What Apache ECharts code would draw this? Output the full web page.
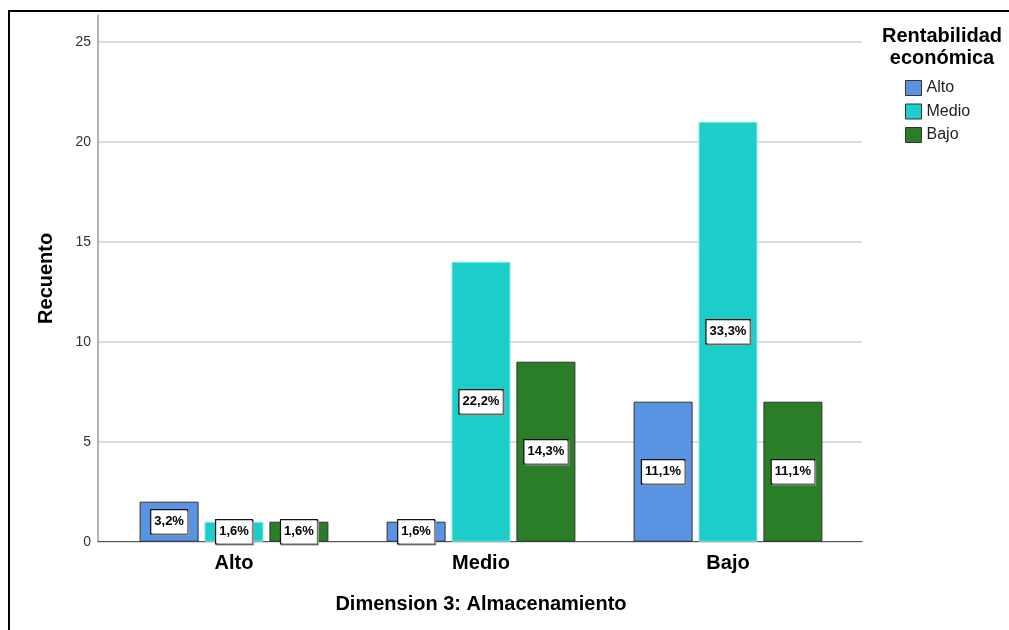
<!DOCTYPE html>
<html>
<head>
<meta charset="utf-8">
<script src="https://cdn.jsdelivr.net/npm/echarts@6/dist/echarts.min.js"></script>
<style>
  html, body { margin: 0; padding: 0; background: #fff; }
  #chart { width: 1009px; height: 630px; }
</style>
</head>
<body>
<div id="chart"></div>
<script>
const categories = ['Alto', 'Medio', 'Bajo'];
const seriesNames = ['Alto', 'Medio', 'Bajo'];
const altoCounts = [2, 1, 7];
const medioCounts = [1, 14, 21];
const bajoCounts = [1, 9, 7];
const yTicks = [0, 5, 10, 15, 20, 25];

const colors = ['#5894e2', '#1ccdca', '#2a7e28'];
const font = "'Liberation Sans', Arial, sans-serif";
const total = [...altoCounts, ...medioCounts, ...bajoCounts].reduce((a, b) => a + b, 0);

const chart = echarts.init(document.getElementById('chart'));

// percent of all cases, with a decimal comma
function pct(v) {
    return (v / total * 100).toFixed(1).replace('.', ',') + '%';
}

function barSeries(name, data, color, border) {
    return {
        name: name,
        type: 'bar',
        xAxisIndex: 0,
        yAxisIndex: 0,
        data: data,
        barWidth: 59,
        barGap: '10%',
        itemStyle: { color: color, borderColor: border, borderWidth: 1 },
        label: {
            show: true,
            position: 'inside',
            formatter: p => pct(p.value),
            fontFamily: font,
            fontWeight: 'bold',
            fontSize: 13,
            lineHeight: 15,
            color: '#000',
            backgroundColor: '#fff',
            borderColor: '#111',
            borderWidth: 1.2,
            padding: [4, 3, 4, 3],
            shadowColor: '#999',
            shadowOffsetX: 1,
            shadowOffsetY: 1,
            shadowBlur: 0
        }
    };
}

const options = {
    animation: false,
    textStyle: { fontFamily: font },
    title: {
        text: 'Rentabilidad\neconómica',
        left: 937,
        top: 20,
        textAlign: 'center',
        textStyle: { fontFamily: font, fontSize: 20, fontWeight: 'bold', lineHeight: 22, color: '#000' }
    },
    legend: {
        orient: 'vertical',
        left: 900,
        top: 75,
        itemWidth: 16,
        itemHeight: 15,
        itemGap: 7.5,
        icon: 'rect',
        textStyle: { fontFamily: font, fontSize: 16, color: '#222' },
        data: seriesNames.map(n => ({ name: n, itemStyle: { borderColor: '#333', borderWidth: 1 } }))
    },
    graphic: [{
        type: 'rect',
        shape: { x: 9, y: 11, width: 1100, height: 700 },
        style: { fill: 'none', stroke: '#000', lineWidth: 2 },
        silent: true
    }],
    grid: [
        { left: 110.5, right: 157.5, top: 41.7, bottom: 88.3 },
        { left: 98, right: 147, top: 41.7, bottom: 88.3 },
        { left: 98, right: 147, top: 15, bottom: 88.3 }
    ],
    xAxis: [
        {
            gridIndex: 0,
            type: 'category',
            data: categories,
            axisLine: { show: false },
            axisTick: { show: false },
            axisLabel: { fontFamily: font, fontSize: 20, fontWeight: 'bold', color: '#000', margin: 12 },
            name: 'Dimension 3: Almacenamiento',
            nameLocation: 'middle',
            nameGap: 53,
            nameTextStyle: { fontFamily: font, fontSize: 20, fontWeight: 'bold', color: '#000' }
        },
        {
            gridIndex: 1,
            type: 'category',
            data: categories,
            axisLine: { show: true, lineStyle: { color: '#555', width: 1 } },
            axisTick: { show: false },
            axisLabel: { show: false }
        },
        {
            gridIndex: 2,
            type: 'category',
            data: categories,
            show: false
        }
    ],
    yAxis: [
        { gridIndex: 0, type: 'value', min: 0, max: 25, show: false },
        {
            gridIndex: 1,
            type: 'value',
            min: yTicks[0],
            max: yTicks[yTicks.length - 1],
            interval: 5,
            axisLine: { show: false },
            axisTick: { show: false },
            axisLabel: { fontFamily: font, fontSize: 14, color: '#333', margin: 7 },
            splitLine: { show: true, lineStyle: { color: '#cfcfcf', width: 1.5 } }
        },
        {
            gridIndex: 2,
            type: 'value',
            min: 0,
            max: 1,
            axisLine: { show: true, lineStyle: { color: '#9a9a9a', width: 1.5 } },
            axisTick: { show: false },
            axisLabel: { show: false },
            splitLine: { show: false },
            name: 'Recuento',
            nameLocation: 'middle',
            nameGap: 42,
            nameTextStyle: { fontFamily: font, fontSize: 20, fontWeight: 'bold', color: '#000' }
        }
    ],
    series: [
        barSeries(seriesNames[0], altoCounts, colors[0], '#333'),
        barSeries(seriesNames[1], medioCounts, colors[1], '#8de6e4'),
        barSeries(seriesNames[2], bajoCounts, colors[2], '#333')
    ]
};
chart.setOption(options);
</script>
</body>
</html>
